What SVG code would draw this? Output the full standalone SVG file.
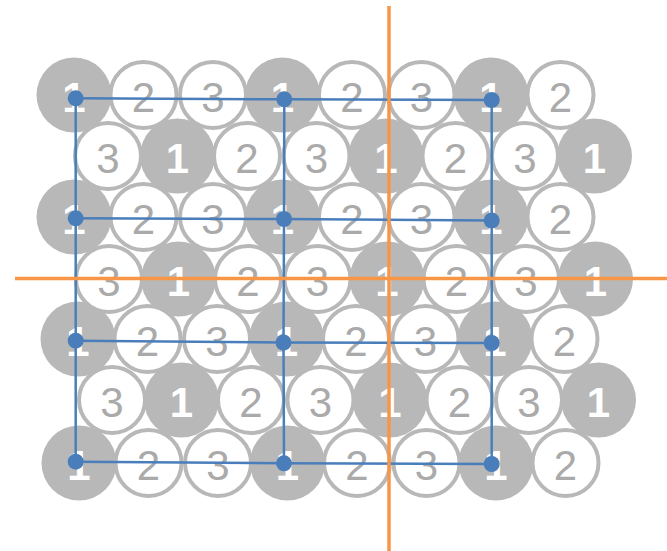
<svg xmlns="http://www.w3.org/2000/svg" width="667" height="551" viewBox="0 0 667 551">
<style>
text{font-family:"Liberation Sans",Arial,sans-serif;font-size:42px;text-anchor:middle}
.gc circle{fill:#b8b8b8}
.gc text{fill:#ffffff;font-weight:bold}
.wc circle{fill:#ffffff;stroke:#b8b8b8;stroke-width:4}
.wc text{fill:#aaaaaa}
.bl{stroke:#4a7ebb;stroke-width:2.5;fill:none}
.dot{fill:#4a7ebb}
.or{stroke:#f79646;stroke-width:3.5}
</style>
<rect width="667" height="551" fill="#ffffff"/>
<g id="grey-nodes">
<g id="r1c1" class="gc"><circle cx="74" cy="95" r="37.5"/><text x="74" y="112">1</text></g>
<g id="r1c4" class="gc"><circle cx="282.5" cy="95" r="37.5"/><text x="282.5" y="112">1</text></g>
<g id="r1c7" class="gc"><circle cx="491" cy="95" r="37.5"/><text x="491" y="112">1</text></g>
<g id="r2c2" class="gc"><circle cx="177.5" cy="156" r="37.5"/><text x="177.5" y="173">1</text></g>
<g id="r2c5" class="gc"><circle cx="386" cy="156" r="37.5"/><text x="386" y="173">1</text></g>
<g id="r2c8" class="gc"><circle cx="594.5" cy="156" r="37.5"/><text x="594.5" y="173">1</text></g>
<g id="r3c1" class="gc"><circle cx="74" cy="217" r="37.5"/><text x="74" y="234">1</text></g>
<g id="r3c4" class="gc"><circle cx="282.5" cy="217" r="37.5"/><text x="282.5" y="234">1</text></g>
<g id="r3c7" class="gc"><circle cx="491" cy="217" r="37.5"/><text x="491" y="234">1</text></g>
<g id="r4c2" class="gc"><circle cx="178.5" cy="279" r="37.5"/><text x="178.5" y="296">1</text></g>
<g id="r4c5" class="gc"><circle cx="387" cy="279" r="37.5"/><text x="387" y="296">1</text></g>
<g id="r4c8" class="gc"><circle cx="595.5" cy="279" r="37.5"/><text x="595.5" y="296">1</text></g>
<g id="r5c1" class="gc"><circle cx="78" cy="339" r="37.5"/><text x="78" y="356">1</text></g>
<g id="r5c4" class="gc"><circle cx="286.5" cy="339" r="37.5"/><text x="286.5" y="356">1</text></g>
<g id="r5c7" class="gc"><circle cx="495" cy="339" r="37.5"/><text x="495" y="356">1</text></g>
<g id="r6c2" class="gc"><circle cx="181.5" cy="400" r="37.5"/><text x="181.5" y="417">1</text></g>
<g id="r6c5" class="gc"><circle cx="390" cy="400" r="37.5"/><text x="390" y="417">1</text></g>
<g id="r6c8" class="gc"><circle cx="598.5" cy="400" r="37.5"/><text x="598.5" y="417">1</text></g>
<g id="r7c1" class="gc"><circle cx="79" cy="463" r="37.5"/><text x="79" y="480">1</text></g>
<g id="r7c4" class="gc"><circle cx="287.5" cy="463" r="37.5"/><text x="287.5" y="480">1</text></g>
<g id="r7c7" class="gc"><circle cx="496" cy="463" r="37.5"/><text x="496" y="480">1</text></g>
</g>
<g id="white-nodes">
<g id="r1c2" class="wc"><circle cx="143.5" cy="95" r="33"/><text x="143.5" y="112">2</text></g>
<g id="r1c3" class="wc"><circle cx="213" cy="95" r="33"/><text x="213" y="112">3</text></g>
<g id="r1c5" class="wc"><circle cx="352" cy="95" r="33"/><text x="352" y="112">2</text></g>
<g id="r1c6" class="wc"><circle cx="421.5" cy="95" r="33"/><text x="421.5" y="112">3</text></g>
<g id="r1c8" class="wc"><circle cx="560.5" cy="95" r="33"/><text x="560.5" y="112">2</text></g>
<g id="r2c1" class="wc"><circle cx="108" cy="156" r="33"/><text x="108" y="173">3</text></g>
<g id="r2c3" class="wc"><circle cx="247" cy="156" r="33"/><text x="247" y="173">2</text></g>
<g id="r2c4" class="wc"><circle cx="316.5" cy="156" r="33"/><text x="316.5" y="173">3</text></g>
<g id="r2c6" class="wc"><circle cx="455.5" cy="156" r="33"/><text x="455.5" y="173">2</text></g>
<g id="r2c7" class="wc"><circle cx="525" cy="156" r="33"/><text x="525" y="173">3</text></g>
<g id="r3c2" class="wc"><circle cx="143.5" cy="217" r="33"/><text x="143.5" y="234">2</text></g>
<g id="r3c3" class="wc"><circle cx="213" cy="217" r="33"/><text x="213" y="234">3</text></g>
<g id="r3c5" class="wc"><circle cx="352" cy="217" r="33"/><text x="352" y="234">2</text></g>
<g id="r3c6" class="wc"><circle cx="421.5" cy="217" r="33"/><text x="421.5" y="234">3</text></g>
<g id="r3c8" class="wc"><circle cx="560.5" cy="217" r="33"/><text x="560.5" y="234">2</text></g>
<g id="r4c1" class="wc"><circle cx="109" cy="279" r="33"/><text x="109" y="296">3</text></g>
<g id="r4c3" class="wc"><circle cx="248" cy="279" r="33"/><text x="248" y="296">2</text></g>
<g id="r4c4" class="wc"><circle cx="317.5" cy="279" r="33"/><text x="317.5" y="296">3</text></g>
<g id="r4c6" class="wc"><circle cx="456.5" cy="279" r="33"/><text x="456.5" y="296">2</text></g>
<g id="r4c7" class="wc"><circle cx="526" cy="279" r="33"/><text x="526" y="296">3</text></g>
<g id="r5c2" class="wc"><circle cx="147.5" cy="339" r="33"/><text x="147.5" y="356">2</text></g>
<g id="r5c3" class="wc"><circle cx="217" cy="339" r="33"/><text x="217" y="356">3</text></g>
<g id="r5c5" class="wc"><circle cx="356" cy="339" r="33"/><text x="356" y="356">2</text></g>
<g id="r5c6" class="wc"><circle cx="425.5" cy="339" r="33"/><text x="425.5" y="356">3</text></g>
<g id="r5c8" class="wc"><circle cx="564.5" cy="339" r="33"/><text x="564.5" y="356">2</text></g>
<g id="r6c1" class="wc"><circle cx="112" cy="400" r="33"/><text x="112" y="417">3</text></g>
<g id="r6c3" class="wc"><circle cx="251" cy="400" r="33"/><text x="251" y="417">2</text></g>
<g id="r6c4" class="wc"><circle cx="320.5" cy="400" r="33"/><text x="320.5" y="417">3</text></g>
<g id="r6c6" class="wc"><circle cx="459.5" cy="400" r="33"/><text x="459.5" y="417">2</text></g>
<g id="r6c7" class="wc"><circle cx="529" cy="400" r="33"/><text x="529" y="417">3</text></g>
<g id="r7c2" class="wc"><circle cx="148.5" cy="463" r="33"/><text x="148.5" y="480">2</text></g>
<g id="r7c3" class="wc"><circle cx="218" cy="463" r="33"/><text x="218" y="480">3</text></g>
<g id="r7c5" class="wc"><circle cx="357" cy="463" r="33"/><text x="357" y="480">2</text></g>
<g id="r7c6" class="wc"><circle cx="426.5" cy="463" r="33"/><text x="426.5" y="480">3</text></g>
<g id="r7c8" class="wc"><circle cx="565.5" cy="463" r="33"/><text x="565.5" y="480">2</text></g>
</g>
<g id="connectors">
<polyline class="bl" points="75.7,98.3 284.3,99.3 491.7,100"/>
<polyline class="bl" points="75.7,218.3 284,219 491.7,220.5"/>
<polyline class="bl" points="75.7,340.7 283.5,342.5 491.7,343"/>
<polyline class="bl" points="75.7,461.7 284,463.3 491.7,464"/>
<polyline class="bl" points="75.7,98.3 75.7,218.3 75.7,340.7 75.7,461.7"/>
<polyline class="bl" points="284.3,99.3 284,219 283.5,342.5 284,463.3"/>
<polyline class="bl" points="491.7,100 491.7,220.5 491.7,343 491.7,464"/>
</g>
<g id="axes">
<line class="or" x1="389" y1="6" x2="389" y2="551"/>
<line class="or" x1="15" y1="278.5" x2="667" y2="278.5"/>
</g>
<g id="points">
<circle class="dot" cx="75.7" cy="98.3" r="8"/>
<circle class="dot" cx="284.3" cy="99.3" r="8"/>
<circle class="dot" cx="491.7" cy="100" r="8"/>
<circle class="dot" cx="75.7" cy="218.3" r="8"/>
<circle class="dot" cx="284" cy="219" r="8"/>
<circle class="dot" cx="491.7" cy="220.5" r="8"/>
<circle class="dot" cx="75.7" cy="340.7" r="8"/>
<circle class="dot" cx="283.5" cy="342.5" r="8"/>
<circle class="dot" cx="491.7" cy="343" r="8"/>
<circle class="dot" cx="75.7" cy="461.7" r="8"/>
<circle class="dot" cx="284" cy="463.3" r="8"/>
<circle class="dot" cx="491.7" cy="464" r="8"/>
</g>
</svg>
